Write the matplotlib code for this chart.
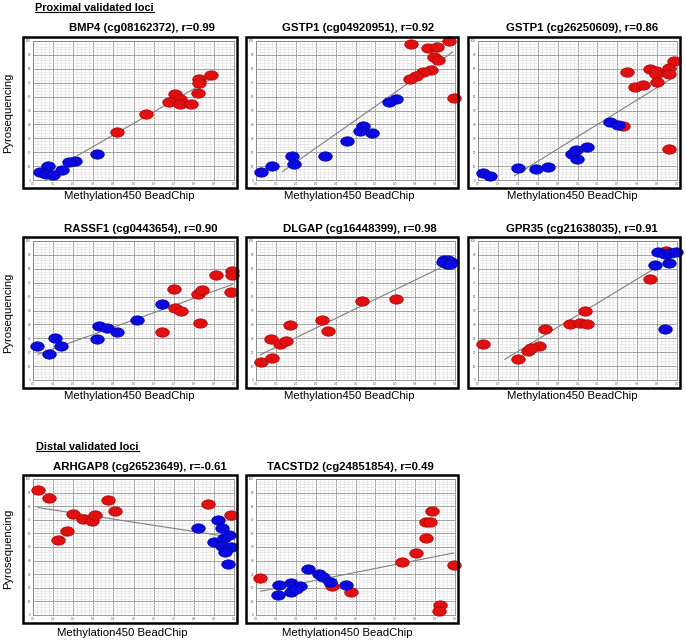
import numpy as np
import matplotlib
matplotlib.use('Agg')
import matplotlib.pyplot as plt
from matplotlib.path import Path
from matplotlib.patches import Rectangle
from matplotlib.lines import Line2D
from matplotlib.ticker import MultipleLocator

plt.rcParams['font.family'] = ['Liberation Sans', 'DejaVu Sans']

# Values (x = BeadChip, scaled 0-1; y = pyrosequencing %)
bmp4_red = [(0.887, 75.7), (0.825, 72.6), (0.825, 69.7), (0.822, 62.4), (0.708, 61.7),
            (0.733, 58.5), (0.678, 56.3), (0.730, 54.6), (0.787, 54.6), (0.562, 47.8),
            (0.420, 34.2)]
bmp4_blue = [(0.317, 18.7), (0.207, 13.8), (0.178, 13.3), (0.142, 7.3), (0.073, 10.4),
             (0.037, 5.6), (0.067, 4.6), (0.098, 3.9)]
bmp4_fit = [(0.22, 17.5), (0.89, 73.0)]

gstp1a_red = [(0.779, 97.6), (0.968, 100.0), (0.862, 95.3), (0.912, 95.8), (0.892, 88.2),
              (0.916, 86.0), (0.879, 79.1), (0.837, 77.9), (0.805, 74.9), (0.773, 73.0),
              (0.993, 59.0)]
gstp1a_blue = [(0.705, 58.2), (0.668, 55.8), (0.539, 38.8), (0.525, 35.1), (0.584, 33.6),
               (0.455, 28.0), (0.345, 17.2), (0.180, 17.2), (0.189, 11.8), (0.079, 9.8),
               (0.025, 6.1)]
gstp1a_fit = [(0.133, 6.1), (0.988, 92.1)]

gstp1b_red = [(0.987, 85.5), (0.962, 80.7), (0.862, 79.5), (0.895, 78.3), (0.892, 76.6),
              (0.962, 76.6), (0.750, 77.8), (0.790, 67.0), (0.830, 68.0), (0.900, 70.4),
              (0.728, 39.0), (0.962, 22.4)]
gstp1b_blue = [(0.662, 41.9), (0.703, 39.8), (0.550, 23.6), (0.492, 21.7), (0.473, 18.8),
               (0.495, 15.2), (0.350, 9.6), (0.292, 8.0), (0.203, 8.4), (0.025, 4.8),
               (0.062, 3.1)]
gstp1b_fit = [(0.183, 3.1), (0.987, 74.2)]

rassf1_red = [(0.644, 34.8), (0.703, 65.6), (0.706, 52.1), (0.736, 49.8), (0.829, 40.8),
              (0.820, 61.6), (0.840, 64.5), (0.908, 75.8), (0.992, 78.2), (0.992, 75.4),
              (0.983, 63.5)]
rassf1_blue = [(0.020, 24.4), (0.079, 18.5), (0.109, 30.3), (0.139, 24.4), (0.319, 29.6),
               (0.328, 38.6), (0.370, 37.2), (0.420, 34.4), (0.518, 43.1), (0.644, 54.5)]
rassf1_fit = [(0.025, 18.5), (0.992, 68.7)]

dlgap_red = [(0.023, 12.6), (0.082, 15.6), (0.077, 29.6), (0.123, 25.8), (0.153, 27.7),
             (0.173, 39.8), (0.330, 43.4), (0.363, 35.3), (0.532, 56.6), (0.703, 58.3)]
dlgap_blue = [(0.945, 86.0), (0.965, 86.2), (0.980, 84.8), (0.958, 83.5), (0.940, 84.8),
              (0.975, 83.2)]
dlgap_fit = [(0.023, 18.2), (0.953, 82.5)]

gpr35_red = [(0.024, 25.8), (0.202, 14.9), (0.253, 21.2), (0.306, 24.6), (0.264, 22.9),
             (0.337, 36.4), (0.461, 40.2), (0.512, 41.0), (0.547, 40.5), (0.539, 49.4),
             (0.865, 73.0), (0.943, 92.8)]
gpr35_blue = [(0.889, 82.9), (0.907, 92.3), (0.938, 90.8), (0.963, 91.6), (0.997, 92.0),
              (0.958, 84.3), (0.941, 36.6)]
gpr35_fit = [(0.135, 14.9), (0.887, 80.2)]

arhgap8_red = [(0.025, 91.6), (0.078, 86.3), (0.125, 55.4), (0.170, 61.9), (0.200, 74.0),
               (0.250, 70.4), (0.295, 69.4), (0.308, 73.5), (0.372, 84.3), (0.408, 76.6),
               (0.872, 81.4), (0.983, 73.5)]
arhgap8_blue = [(0.822, 64.3), (0.920, 69.9), (0.938, 64.3), (0.900, 53.7), (0.950, 56.6),
                (0.975, 59.0), (0.942, 50.6), (0.983, 50.1), (0.955, 46.3), (0.972, 37.3)]
arhgap8_fit = [(0.025, 79.0), (0.925, 58.6)]

tacstd2_red = [(0.020, 27.1), (0.382, 21.6), (0.478, 16.8), (0.736, 39.1), (0.803, 45.6),
               (0.854, 56.8), (0.854, 68.3), (0.875, 68.3), (0.884, 76.3), (0.926, 7.2),
               (0.921, 2.9), (0.993, 36.5)]
tacstd2_blue = [(0.116, 22.1), (0.113, 14.4), (0.177, 23.5), (0.177, 16.8), (0.222, 21.1),
                (0.200, 19.2), (0.259, 34.1), (0.318, 30.5), (0.335, 27.6), (0.370, 24.0),
                (0.453, 22.3)]
tacstd2_fit = [(0.024, 17.5), (0.993, 45.6)]

titles = ['BMP4 (cg08162372), r=0.99', 'GSTP1 (cg04920951), r=0.92', 'GSTP1 (cg26250609), r=0.86',
          'RASSF1 (cg0443654), r=0.90', 'DLGAP (cg16448399), r=0.98', 'GPR35 (cg21638035), r=0.91',
          'ARHGAP8 (cg26523649), r=-0.61', 'TACSTD2 (cg24851854), r=0.49']
y_ticks = [0, 10, 20, 30, 40, 50, 60, 70, 80, 90, 100]
x_tick_labels = ['0.0', '0.1', '0.2', '0.3', '0.4', '0.5', '0.6', '0.7', '0.8', '0.9', '1.0']

panels = [(bmp4_red, bmp4_blue, bmp4_fit), (gstp1a_red, gstp1a_blue, gstp1a_fit),
          (gstp1b_red, gstp1b_blue, gstp1b_fit), (rassf1_red, rassf1_blue, rassf1_fit),
          (dlgap_red, dlgap_blue, dlgap_fit), (gpr35_red, gpr35_blue, gpr35_fit),
          (arhgap8_red, arhgap8_blue, arhgap8_fit), (tacstd2_red, tacstd2_blue, tacstd2_fit)]

W, H = 686, 642
fig = plt.figure(figsize=(W / 100, H / 100), dpi=100)

# ellipse marker (wider than tall)
t = np.linspace(0, 2 * np.pi, 60)
ellipse = Path(np.column_stack([1.45 * np.cos(t), np.sin(t)]))

# frame boxes in pixels: (left, top, right, bottom)
col_x = [(23, 237), (246, 458), (468, 680)]
row_y = [(37, 188), (237, 388), (475, 623)]
title_y = [28, 229, 467]
xlabel_y = [196, 396, 633]
title_cx = [142, 358, 582, 141, 360, 582, 140, 350]
xlabel_cx = [129, 349, 572, 129, 349, 572, 122, 347]


def fx(px):
    return px / W


def fy(py):
    return 1 - py / H


for i, (red, blue, fit) in enumerate(panels):
    r, c = divmod(i, 3)
    x0, x1 = col_x[c]
    y0, y1 = row_y[r]

    # outer black frame
    fig.add_artist(Rectangle((fx(x0), fy(y1)), fx(x1 - x0), (y1 - y0) / H,
                             transform=fig.transFigure, fill=False, ec='black', lw=1.8))

    ax = fig.add_axes([fx(x0 + 10), fy(y1 - 8), fx(x1 - x0 - 13), (y1 - y0 - 12) / H])
    ax.set_xlim(0, 1)
    ax.set_ylim(0, 100)
    ax.xaxis.set_minor_locator(MultipleLocator(0.02))
    ax.yaxis.set_minor_locator(MultipleLocator(2))
    ax.set_xticks(np.linspace(0, 1, 11))
    ax.set_xticklabels(x_tick_labels)
    ax.set_yticks(y_ticks)
    ax.set_yticklabels([str(v) for v in y_ticks])
    ax.tick_params(which='both', length=0, labelsize=2.2, labelcolor='#555555', pad=1.5)
    ax.grid(True, which='major', color='#a0a0a0', lw=0.7)
    ax.grid(True, which='minor', color='#e4e4e4', lw=0.5)
    ax.set_axisbelow(True)
    for s in ax.spines.values():
        s.set_color('#888888')
        s.set_linewidth(0.6)

    lx, ly = zip(*fit)
    ax.plot(lx, ly, color='#808080', lw=0.8, zorder=2)
    rx, ry = zip(*red)
    ax.scatter(rx, ry, s=95, marker=ellipse, color='#e01010', edgecolors='#b00000',
               linewidths=0.5, zorder=3, clip_on=False)
    bx, by = zip(*blue)
    ax.scatter(bx, by, s=95, marker=ellipse, color='#0a0ae0', edgecolors='#0000a0',
               linewidths=0.5, zorder=4, clip_on=False)

    fig.text(fx(title_cx[i]), fy(title_y[r]), titles[i], ha='center', va='center',
             fontsize=8.2, fontweight='bold')
    fig.text(fx(xlabel_cx[i]), fy(xlabel_y[r]), 'Methylation450 BeadChip', ha='center',
             va='center', fontsize=8.2)
    if c == 0:
        fig.text(fx(8), fy((y0 + y1) / 2), 'Pyrosequencing', ha='center', va='center',
                 rotation=90, fontsize=8)

# section headers, bold and underlined
headers = [fig.text(fx(35), fy(8), 'Proximal validated loci', ha='left', va='center',
                    fontsize=7.8, fontweight='bold'),
           fig.text(fx(36), fy(447), 'Distal validated loci', ha='left', va='center',
                    fontsize=7.8, fontweight='bold')]
fig.canvas.draw()
renderer = fig.canvas.get_renderer()
for h in headers:
    bb = h.get_window_extent(renderer).transformed(fig.transFigure.inverted())
    fig.add_artist(Line2D([bb.x0, bb.x1], [bb.y0 + 0.001, bb.y0 + 0.001],
                          transform=fig.transFigure, color='black', lw=0.8))

plt.savefig('out.png', dpi=100)
